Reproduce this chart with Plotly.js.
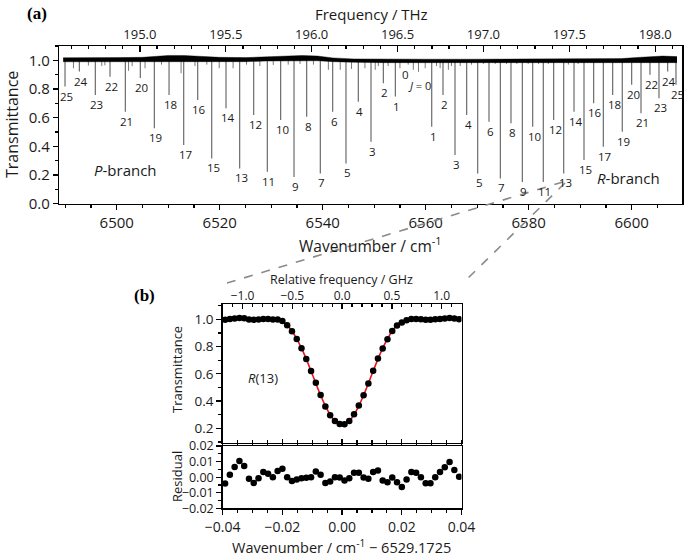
<!DOCTYPE html>
<html><head><meta charset="utf-8">
<script src="https://cdn.plot.ly/plotly-3.0.1.min.js"></script>
<style>html,body{margin:0;padding:0;background:#fff}</style>
</head><body><div id="chart" style="width:685px;height:556px"></div>
<script>
// ---------- data: panel (a) ----------
const pJ  = [1,2,3,4,5,6,7,8,9,10,11,12,13,14,15,16,17,18,19,20,21,22,23,24,25];
const pWn = [6554.10,6551.77,6549.38,6546.91,6544.52,6541.94,6539.53,6536.89,6534.43,6531.84,
             6529.24,6526.60,6523.88,6521.22,6518.45,6515.73,6513.01,6510.16,6507.30,6504.58,
             6501.67,6498.70,6495.84,6492.74,6489.96];
const pT  = [0.747,0.841,0.432,0.712,0.281,0.642,0.211,0.607,0.187,0.584,
             0.222,0.619,0.246,0.666,0.316,0.724,0.409,0.759,0.526,0.876,
             0.642,0.885,0.759,0.922,0.817];
const rJ  = [1,2,3,4,5,6,7,8,9,10,11,12,13,14,15,16,17,18,19,20,21,22,23,24,25];
const rWn = [6561.17,6563.36,6565.69,6567.96,6570.10,6572.29,6574.49,6576.56,6578.76,6580.78,
             6582.83,6584.85,6586.80,6588.80,6590.74,6592.62,6594.49,6596.31,6598.17,6600.00,
             6601.81,6603.55,6605.30,6606.99,6608.60];
const rT  = [0.537,0.759,0.339,0.619,0.211,0.572,0.176,0.561,0.152,0.537,
             0.152,0.584,0.211,0.642,0.304,0.701,0.397,0.759,0.502,0.829,
             0.631,0.899,0.736,0.922,0.829];
const weakWn = [6491.6,6494.5,6497.1,6497.7,6502.3,6503.0,6505.5,6508.7,6512.5,6515.2,6517.5,6519.9,
                6522.6,6525.2,6527.8,6530.4,6533.3,6535.6,6538.2,6541.1,6543.4,6545.6,6548.2,6550.2,
                6550.8,6552.7,6555.0,6556.6,6557.6,6558.6,6559.9,6562.1,6562.8,6564.4,6565.0,6566.7,
                6568.9,6571.2,6573.5,6575.7,6577.7,6579.9,6581.9,6583.8,6587.7,6589.6];
const weakT  = [0.945,0.964,0.960,0.965,0.927,0.960,0.945,0.970,0.910,0.960,0.970,0.945,
                0.945,0.970,0.960,0.968,0.970,0.975,0.970,0.934,0.934,0.940,0.945,0.934,
                0.960,0.960,0.945,0.970,0.934,0.920,0.945,0.960,0.945,0.934,0.960,0.960,
                0.970,0.975,0.975,0.975,0.975,0.975,0.975,0.975,0.970,0.975];
const baseWn    = [6489.6,6495,6500,6505,6507,6510,6513,6516,6520,6525,6529,6533,6536,6539,6542,6546,6552,6560,6570,6580,6590,6598,6601,6603,6606,6608.8];
const baseUpper = [1.018,1.017,1.019,1.021,1.028,1.034,1.034,1.027,1.021,1.019,1.023,1.030,1.034,1.030,1.017,1.010,1.008,1.008,1.008,1.010,1.010,1.012,1.020,1.026,1.030,1.026];
const baseLower = [0.990,0.990,0.990,0.990,0.988,0.986,0.986,0.988,0.990,0.991,0.995,0.997,0.999,0.997,0.991,0.986,0.984,0.984,0.986,0.987,0.987,0.987,0.985,0.982,0.982,0.984];
const pTicks = ['6500','6520','6540','6560','6580','6600'];

// ---------- data: panel (b) ----------
const dX = [-0.0392,-0.0376,-0.0360,-0.0344,-0.0328,-0.0312,-0.0296,-0.0280,-0.0264,-0.0248,
            -0.0232,-0.0216,-0.0200,-0.0184,-0.0168,-0.0152,-0.0136,-0.0120,-0.0104,-0.0088,
            -0.0072,-0.0056,-0.0040,-0.0024,-0.0008,0.0008,0.0024,0.0040,0.0056,0.0072,
            0.0088,0.0104,0.0120,0.0136,0.0152,0.0168,0.0184,0.0200,0.0216,0.0232,
            0.0248,0.0264,0.0280,0.0296,0.0312,0.0328,0.0344,0.0360,0.0376,0.0392];
const dT = [0.996,1.002,1.006,1.010,1.007,0.999,0.996,0.999,1.003,1.002,
            0.999,0.999,0.988,0.957,0.912,0.856,0.787,0.708,0.620,0.534,
            0.445,0.361,0.297,0.255,0.232,0.230,0.254,0.303,0.368,0.443,
            0.529,0.623,0.712,0.786,0.854,0.914,0.954,0.977,0.993,1.002,
            1.003,1.000,0.996,0.996,1.000,1.003,1.006,1.010,1.005,1.000];
const fitT = [1.000,1.000,1.000,1.000,1.000,1.000,1.000,1.000,1.000,1.000,
              0.999,0.995,0.983,0.957,0.914,0.857,0.788,0.708,0.620,0.530,
              0.443,0.365,0.300,0.255,0.232,0.232,0.255,0.300,0.365,0.443,
              0.530,0.620,0.708,0.788,0.857,0.914,0.957,0.983,0.995,0.999,
              1.000,1.000,1.000,1.000,1.000,1.000,1.000,1.000,1.000,1.000];
const resid = [-0.0041,0.0015,0.0065,0.0104,0.0072,-0.0011,-0.0037,-0.0007,0.0033,0.0022,
               0.0000,0.0039,0.0054,0.0000,-0.0024,-0.0015,-0.0007,-0.0004,0.0000,0.0037,
               0.0015,-0.0037,-0.0028,0.0000,-0.0002,-0.0022,-0.0007,0.0028,0.0028,-0.0002,
               -0.0011,0.0033,0.0043,-0.0022,-0.0033,-0.0002,-0.0033,-0.0063,-0.0015,0.0033,
               0.0028,0.0000,-0.0039,-0.0039,0.0000,0.0033,0.0063,0.0098,0.0046,0.0002];

const THZ_PER_CM = 0.0299792458;
const GHZ_PER_CM = 29.9792458;

// ---------- layout helpers (pixel -> paper) ----------
const W = 685, H = 556;
const px = p => p / W, py = p => 1 - p / H;
const FONT = 'Open Sans, Noto Sans, sans-serif';
const TXT = '#1a1a1a';

const xRangeA = [6488.85, 6609.77];
const xRangeB = [-0.04, 0.04];

function sticks(wn, t) {
  const xs = [], ys = [];
  wn.forEach((w, i) => { xs.push(w, w, null); ys.push(1.0, t[i], null); });
  return {xs, ys};
}
const sP = sticks(pWn, pT), sR = sticks(rWn, rT), sW = sticks(weakWn, weakT);

const traces = [
  {x: sW.xs, y: sW.ys, xaxis: 'x', yaxis: 'y', mode: 'lines', line: {color: '#7a7a7a', width: 1}, hoverinfo: 'skip', showlegend: false},
  {x: sP.xs, y: sP.ys, xaxis: 'x', yaxis: 'y', mode: 'lines', line: {color: '#5e5e5e', width: 1.1}, hoverinfo: 'skip', showlegend: false},
  {x: sR.xs, y: sR.ys, xaxis: 'x', yaxis: 'y', mode: 'lines', line: {color: '#5e5e5e', width: 1.1}, hoverinfo: 'skip', showlegend: false},
  {x: baseWn, y: baseUpper, xaxis: 'x', yaxis: 'y', mode: 'lines', line: {color: '#000', width: 0.4}, hoverinfo: 'skip', showlegend: false},
  {x: baseWn, y: baseLower, xaxis: 'x', yaxis: 'y', mode: 'lines', fill: 'tonexty', fillcolor: '#000', line: {color: '#000', width: 0.4}, hoverinfo: 'skip', showlegend: false},
  {x: [xRangeA[0] * THZ_PER_CM], y: [1], xaxis: 'x2', yaxis: 'y', mode: 'markers', marker: {size: 0.1, opacity: 0}, hoverinfo: 'skip', showlegend: false},
  // panel b
  {x: dX, y: fitT, xaxis: 'x3', yaxis: 'y3', mode: 'lines', line: {color: '#e8141e', width: 1.6, shape: 'spline'}, hoverinfo: 'skip', showlegend: false},
  {x: dX, y: dT, xaxis: 'x3', yaxis: 'y3', mode: 'markers', marker: {color: '#000', size: 6.5}, showlegend: false},
  {x: [0], y: [1], xaxis: 'x4', yaxis: 'y3', mode: 'markers', marker: {size: 0.1, opacity: 0}, hoverinfo: 'skip', showlegend: false},
  {x: dX, y: resid, xaxis: 'x5', yaxis: 'y5', mode: 'markers', marker: {color: '#000', size: 6.5}, showlegend: false}
];

const axBase = {showgrid: false, zeroline: false, showline: true, linecolor: '#000', linewidth: 1.5,
  tickcolor: '#000', tickwidth: 1.3, fixedrange: true, automargin: false,
  tickfont: {family: FONT, size: 15, color: TXT}};

const layout = {
  width: W, height: H, margin: {l: 0, r: 0, t: 0, b: 0},
  paper_bgcolor: '#fff', plot_bgcolor: 'rgba(0,0,0,0)', showlegend: false,
  xaxis: Object.assign({}, axBase, {domain: [px(59.3), px(682)], anchor: 'y', range: xRangeA,
    tickmode: 'array', tickvals: pTicks.map(Number), ticktext: pTicks, ticks: 'outside', ticklen: 5,
    minor: {dtick: 5, tick0: 6500, ticks: 'outside', ticklen: 3, tickcolor: '#000', tickwidth: 1.2}}),
  xaxis2: Object.assign({}, axBase, {overlaying: 'x', side: 'top', anchor: 'y', domain: [px(59.3), px(682)],
    range: xRangeA.map(v => v * THZ_PER_CM), tick0: 195, dtick: 0.5, tickformat: '.1f',
    ticks: 'inside', ticklen: 6, tickfont: {family: FONT, size: 13, color: TXT},
    minor: {dtick: 0.1, tick0: 195, ticks: 'inside', ticklen: 3, tickcolor: '#000', tickwidth: 1.2}}),
  yaxis: Object.assign({}, axBase, {domain: [py(203.7), py(46)], anchor: 'x', range: [0, 1.1],
    tick0: 0, dtick: 0.2, tickformat: '.1f', ticks: 'outside', ticklen: 5, mirror: true,
    minor: {dtick: 0.1, ticks: 'outside', ticklen: 3, tickcolor: '#000', tickwidth: 1.2}}),
  xaxis3: Object.assign({}, axBase, {domain: [px(222.7), px(461.5)], anchor: 'y3', range: xRangeB,
    showticklabels: false, tick0: 0, dtick: 0.02, ticks: 'inside', ticklen: 4,
    minor: {dtick: 0.005, ticks: 'inside', ticklen: 3, tickcolor: '#000', tickwidth: 1.2}}),
  xaxis4: Object.assign({}, axBase, {overlaying: 'x3', side: 'top', anchor: 'y3', domain: [px(222.7), px(461.5)],
    range: xRangeB.map(v => v * GHZ_PER_CM), tick0: 0, dtick: 0.5, tickformat: '.1f',
    ticks: 'inside', ticklen: 5, ticklabelstandoff: -2, tickfont: {family: FONT, size: 12, color: TXT},
    minor: {dtick: 0.1, ticks: 'inside', ticklen: 3, tickcolor: '#000', tickwidth: 1.2}}),
  yaxis3: Object.assign({}, axBase, {domain: [py(442.7), py(304.3)], anchor: 'x3', range: [0.095, 1.11],
    tick0: 0, dtick: 0.2, tickformat: '.1f', ticks: 'outside', ticklen: 5, mirror: true,
    tickfont: {family: FONT, size: 13.5, color: TXT},
    minor: {dtick: 0.1, ticks: 'outside', ticklen: 3, tickcolor: '#000', tickwidth: 1.2}}),
  xaxis5: Object.assign({}, axBase, {domain: [px(222.7), px(461.5)], anchor: 'y5', range: xRangeB,
    tick0: 0, dtick: 0.02, tickformat: '.2f', ticks: 'outside', ticklen: 5, mirror: 'ticks',
    tickfont: {family: FONT, size: 14, color: TXT},
    minor: {dtick: 0.005, ticks: 'outside', ticklen: 3, tickcolor: '#000', tickwidth: 1.2}}),
  yaxis5: Object.assign({}, axBase, {domain: [py(508.3), py(446)], anchor: 'x5', range: [-0.02, 0.02],
    tick0: 0, dtick: 0.01, tickformat: '.2f', ticks: 'outside', ticklen: 5, mirror: true,
    tickfont: {family: FONT, size: 12.5, color: TXT},
    minor: {dtick: 0.005, ticks: 'outside', ticklen: 3, tickcolor: '#000', tickwidth: 1.2}}),
  shapes: [
    {type: 'line', xref: 'paper', yref: 'paper', x0: px(563), y0: py(182), x1: px(227), y1: py(283),
     line: {color: '#8a8a8a', width: 1.6, dash: 'dash'}},
    {type: 'line', xref: 'paper', yref: 'paper', x0: px(565), y0: py(183), x1: px(463), y1: py(283),
     line: {color: '#8a8a8a', width: 1.6, dash: 'dash'}}
  ],
  annotations: []
};

const lab = (x, y, text, size, opts) => Object.assign({x: x, y: y, xref: 'paper', yref: 'paper', text: text,
  showarrow: false, xanchor: 'center', yanchor: 'middle', borderpad: 0, font: {family: FONT, size: size, color: TXT}}, opts || {});

// J labels
pJ.forEach((j, i) => layout.annotations.push({x: pWn[i], y: pT[i], xref: 'x', yref: 'y', text: String(j),
  showarrow: false, xanchor: 'center', yanchor: 'middle', xshift: 1.5, yshift: -9.5,
  font: {family: FONT, size: 11.5, color: TXT}}));
rJ.forEach((j, i) => layout.annotations.push({x: rWn[i], y: rT[i], xref: 'x', yref: 'y', text: String(j),
  showarrow: false, xanchor: 'center', yanchor: 'middle', xshift: 1.5, yshift: -9.5,
  font: {family: FONT, size: 11.5, color: TXT}}));

layout.annotations.push(
  {x: 6556.12, y: 0.899, xref: 'x', yref: 'y', text: '0', showarrow: false, font: {family: FONT, size: 11.5, color: TXT}},
  {x: 6558.76, y: 0.824, xref: 'x', yref: 'y', text: '<i>J</i> = 0', showarrow: false, font: {family: FONT, size: 11, color: TXT}},
  {x: 6501.77, y: 0.234, xref: 'x', yref: 'y', text: '<i>P</i>-branch', showarrow: false, font: {family: FONT, size: 15, color: TXT}},
  {x: 6599.34, y: 0.176, xref: 'x', yref: 'y', text: '<i>R</i>-branch', showarrow: false, font: {family: FONT, size: 15, color: TXT}},
  {x: -0.0265, y: 0.57, xref: 'x3', yref: 'y3', text: '<i>R</i>(13)', showarrow: false, font: {family: FONT, size: 13, color: TXT}},
  // titles
  lab(px(371.7), py(14), 'Frequency / THz', 15),
  lab(px(370), py(245), 'Wavenumber / cm<sup>-1</sup>', 15.5),
  lab(px(12), py(125), 'Transmittance', 16, {textangle: -90}),
  lab(px(341.7), py(279.5), 'Relative frequency / GHz', 12.5),
  lab(px(341.7), py(546.7), 'Wavenumber / cm<sup>-1</sup> − 6529.1725', 14.5),
  lab(px(177), py(370), 'Transmittance', 13, {textangle: -90}),
  lab(px(177), py(477), 'Residual', 13, {textangle: -90}),
  lab(px(36.5), py(13.5), '<b>(a)</b>', 17, {font: {family: 'Liberation Serif, serif', size: 17, color: '#000'}}),
  lab(px(144), py(295), '<b>(b)</b>', 17, {font: {family: 'Liberation Serif, serif', size: 17, color: '#000'}})
);

Plotly.newPlot('chart', traces, layout, {displayModeBar: false, staticPlot: true});
</script>
</body></html>
